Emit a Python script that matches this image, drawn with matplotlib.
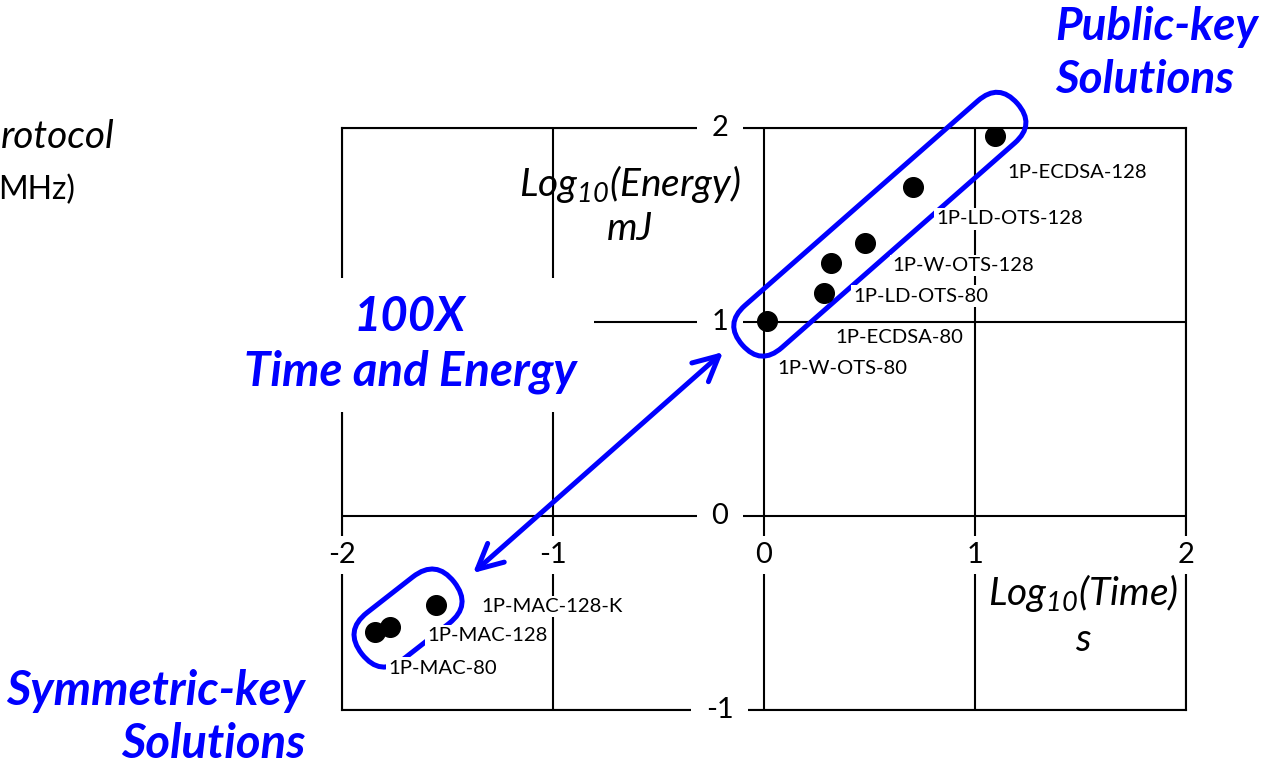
import numpy as np
import matplotlib
matplotlib.use("Agg")
import matplotlib.pyplot as plt
from matplotlib.patches import FancyBboxPatch
from matplotlib.transforms import Affine2D, ScaledTranslation

plt.rcParams['font.family'] = ['Lato', 'DejaVu Sans']
plt.rcParams['mathtext.fontset'] = 'custom'
plt.rcParams['mathtext.it'] = 'Lato:italic'
plt.rcParams['mathtext.rm'] = 'Lato:italic'

BLUE = '#0000ff'

# data: log10 of time (s) and energy (mJ) per protocol
names = ['1P-ECDSA-128', '1P-LD-OTS-128', '1P-W-OTS-128', '1P-LD-OTS-80',
         '1P-ECDSA-80', '1P-W-OTS-80', '1P-MAC-128-K', '1P-MAC-128', '1P-MAC-80']
log_time = [1.095, 0.706, 0.479, 0.318, 0.284, 0.014, -1.554, -1.773, -1.844]
log_energy = [1.959, 1.696, 1.407, 1.304, 1.149, 1.005, -0.459, -0.572, -0.598]

# label offsets in pixels from each point
label_off = [(12, -37), (23, -32), (27, -22), (22, -33), (11, -44),
             (10, -47), (45, -1), (37, -9), (13, -36)]

x_ticks = [-2, -1, 0, 1, 2]
y_ticks = [-1, 0, 1, 2]

fig = plt.figure(figsize=(12.68, 7.65), dpi=100)
ax = fig.add_axes([342 / 1268, 55 / 765, 844 / 1268, 582 / 765])
ax.set_xlim(-2, 2)
ax.set_ylim(-1, 2)
ax.set_xticks(x_ticks)
ax.set_yticks(y_ticks)
ax.tick_params(length=0, labelbottom=False, labelleft=False)
ax.grid(True, color='black', lw=1.5, zorder=1)
ax.set_axisbelow(True)
for s in ax.spines.values():
    s.set_linewidth(1.5)
    s.set_zorder(1)

# tick labels sitting on the axes, with white boxes cutting the grid
for t in y_ticks:
    ax.text(-0.209, t, str(t), ha='center', va='center', fontsize=21, zorder=2,
            bbox=dict(boxstyle='square,pad=0.5', fc='white', ec='none'))
for t in x_ticks:
    ax.text(t, -0.201, str(t), ha='center', va='center', fontsize=21, zorder=2,
            bbox=dict(boxstyle='square,pad=0.22', fc='white', ec='none'))

ax.scatter(log_time, log_energy, s=200, color='black', zorder=4)
for n, x, y, off in zip(names, log_time, log_energy, label_off):
    ax.annotate(n, (x, y), xytext=off, textcoords='offset pixels',
                ha='left', va='center', fontsize=14.6, zorder=5,
                bbox=dict(boxstyle='square,pad=0.1', fc='white', ec='none'))


def capsule(cx, cy, length, r, angle):
    # stadium outline drawn in pixels around a data-space centre
    tr = (Affine2D().scale(1 / 100).rotate_deg(angle) + fig.dpi_scale_trans
          + ScaledTranslation(cx, cy, ax.transData))
    p = FancyBboxPatch((-length / 2 - r, -r), length + 2 * r, 2 * r,
                       boxstyle=f'round,pad=0,rounding_size={r}',
                       fc='none', ec=BLUE, lw=3.6, transform=tr, zorder=3,
                       clip_on=False)
    ax.add_patch(p)


capsule(0.549, 1.504, 310, 28, 41.3)
capsule(-1.687, -0.526, 58, 29.5, 38)

ax.annotate('', xy=(-1.379, -0.294), xytext=(-0.194, 0.845),
            arrowprops=dict(arrowstyle='<->,head_length=0.9,head_width=0.45',
                            color=BLUE, lw=3.6, shrinkA=0, shrinkB=0,
                            mutation_scale=20), zorder=3)

ax.text(-1.678, 0.884, '100X\nTime and Energy', ha='center', va='center',
        fontsize=34, fontweight='bold', style='italic', color=BLUE,
        linespacing=1.28, zorder=2,
        bbox=dict(boxstyle='square,pad=0.38', fc='white', ec='none'))
ax.text(1.379, 2.384, 'Public-key\nSolutions', ha='left', va='center',
        fontsize=33, fontweight='bold', style='italic', color=BLUE,
        linespacing=1.32)
ax.text(-2.175, -1.039, 'Symmetric-key\nSolutions', ha='right', va='center',
        multialignment='right', fontsize=34, fontweight='bold',
        style='italic', color=BLUE, linespacing=1.25)

ax.text(-0.635, 1.603, 'Log$_{10}$(Energy)\nmJ', ha='center', va='center',
        fontsize=28, style='italic', linespacing=1.2)
ax.text(1.512, -0.510, 'Log$_{10}$(Time)\ns', ha='center', va='center',
        fontsize=28, style='italic', linespacing=1.28)

ax.text(-3.076, 1.954, 'rotocol', ha='right', va='center', fontsize=28,
        style='italic')
ax.text(-3.265, 1.680, 'MHz)', ha='right', va='center', fontsize=23)

fig.savefig('out.png', dpi=100)
